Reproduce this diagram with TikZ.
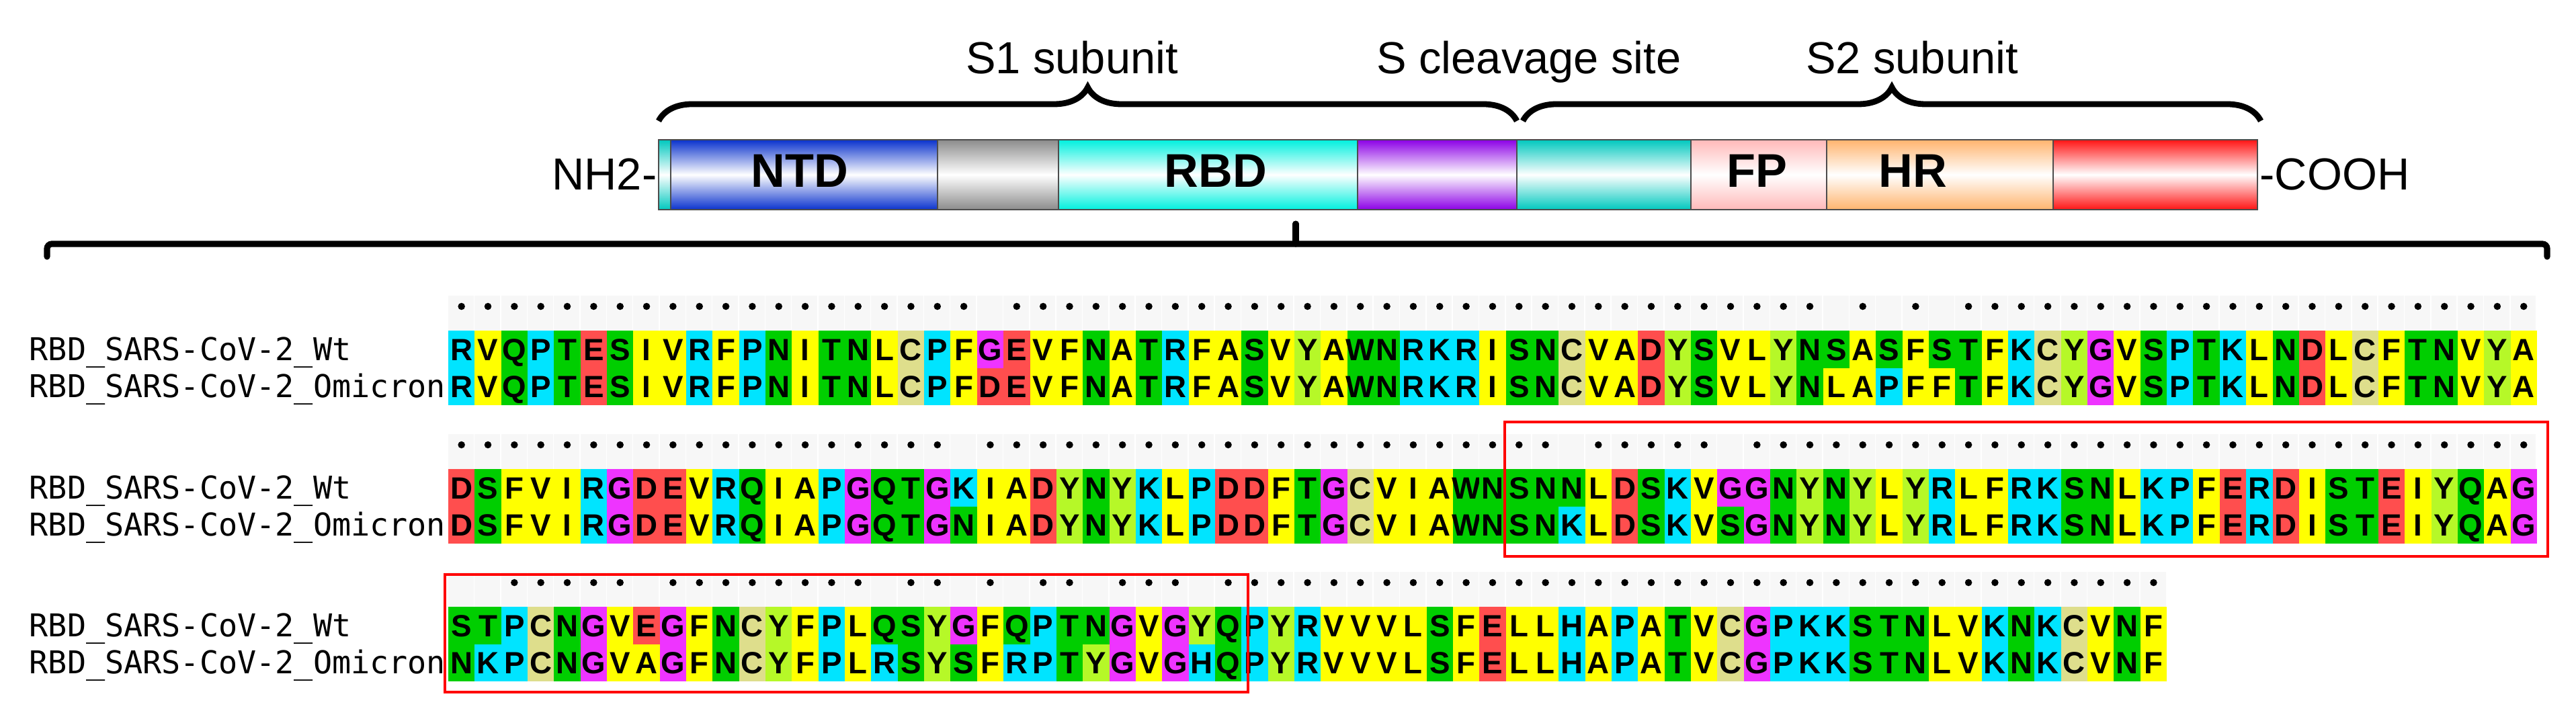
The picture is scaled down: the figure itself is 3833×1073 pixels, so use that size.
\documentclass[tikz,border=0pt]{standalone}
\usepackage{fontspec}
\setmainfont{Liberation Sans}
\newfontfamily\namefont{DejaVu Sans Mono}
\usetikzlibrary{decorations.pathreplacing}

% residue colours
\definecolor{aacyan}{RGB}{0,228,255}
\definecolor{aayellow}{RGB}{255,255,0}
\definecolor{aagreen}{RGB}{0,206,0}
\definecolor{aared}{RGB}{255,78,78}
\definecolor{aamagenta}{RGB}{238,52,255}
\definecolor{aakhaki}{RGB}{222,222,140}
\definecolor{aalime}{RGB}{182,248,40}
\colorlet{aaR}{aacyan}\colorlet{aaK}{aacyan}\colorlet{aaH}{aacyan}\colorlet{aaP}{aacyan}
\colorlet{aaV}{aayellow}\colorlet{aaI}{aayellow}\colorlet{aaL}{aayellow}
\colorlet{aaF}{aayellow}\colorlet{aaA}{aayellow}\colorlet{aaM}{aayellow}
\colorlet{aaQ}{aagreen}\colorlet{aaT}{aagreen}\colorlet{aaS}{aagreen}
\colorlet{aaN}{aagreen}\colorlet{aaW}{aagreen}
\colorlet{aaD}{aared}\colorlet{aaE}{aared}
\colorlet{aaG}{aamagenta}
\colorlet{aaC}{aakhaki}
\colorlet{aaY}{aalime}

% domain colours
\definecolor{dteal}{RGB}{0,200,190}
\definecolor{dblue}{RGB}{10,50,205}
\definecolor{dgray}{RGB}{140,140,140}
\definecolor{drbd}{RGB}{0,240,222}
\definecolor{dpurple}{RGB}{140,0,230}
\definecolor{dfp}{RGB}{255,185,185}
\definecolor{dhr}{RGB}{255,180,110}
\definecolor{dred}{RGB}{255,20,20}

\tikzset{
  reslabel/.style = {anchor=base, inner sep=0pt, font=\bfseries\fontsize{13pt}{13pt}\selectfont},
  seqname/.style = {anchor=base west, inner sep=0pt, font=\namefont\fontsize{13.3pt}{14pt}\selectfont},
  toplabel/.style = {anchor=base, inner sep=0pt, font=\fontsize{19pt}{20pt}\selectfont},
  domlabel/.style = {anchor=base, inner sep=0pt, font=\bfseries\fontsize{20pt}{20pt}\selectfont},
  subbrace/.style = {decorate, decoration={brace, amplitude=0.5cm}, line width=2.5pt},
  bracket/.style = {line width=2.6pt, rounded corners=2pt, line cap=round},
  hilite/.style = {draw=red, line width=1.3pt},
}

\newcount\colno
\def\colw{39.34}
\def\rowtop{0}
\def\rowid{a}

% one column: wt residue, omicron residue
\newcommand\seqcell[2]{%
  \global\advance\colno by 1
  \pgfmathsetmacro\cxl{667+(\the\colno-1)*\colw}
  \pgfmathsetmacro\cxm{\cxl+\colw/2}
  \fill[gray!6] (\cxl,\rowtop-52) rectangle ++(\colw-1.5,52);
  \fill[aa#1] (\cxl,\rowtop) rectangle ++(\colw+0.3,55.8);
  \fill[aa#2] (\cxl,\rowtop+55.5) rectangle ++(\colw+0.3,55.5);
  \node[reslabel] (\rowid w\the\colno) at (\cxm,\rowtop+44) {#1};
  \node[reslabel] (\rowid o\the\colno) at (\cxm,\rowtop+99.5) {#2};
  \ifx#1#2\fill (\cxm,\rowtop-36) circle[radius=1.5pt];\fi
}
\def\seqpair#1#2\relax#3#4\relax{%
  \seqcell{#1}{#3}%
  \ifx\relax#2\relax\else\seqpair#2\relax#4\relax\fi}
\newcommand\seqrow[4]{% id, top, wt, omicron
  \def\rowid{#1}\def\rowtop{#2}\global\colno=0
  \node[seqname] (#1wt) at (43,#2+44) {RBD\_SARS-CoV-2\_Wt};
  \node[seqname] (#1om) at (43,#2+99.5) {RBD\_SARS-CoV-2\_Omicron};
  \seqpair#3\relax#4\relax}

\begin{document}
\begin{tikzpicture}[x=0.01cm, y=-0.01cm]
	\useasboundingbox (0,0) rectangle (3833,1073);

	%subunit labels and braces
	\node[toplabel] (s1) at (1595,110) {S1 subunit};
	\node[toplabel] (cleave) at (2275,110) {S cleavage site};
	\node[toplabel] (s2) at (2845,110) {S2 subunit};
	\draw[subbrace] (980,180) -- (2257,180);
	\draw[subbrace] (2266,180) -- (3364,180);

	%domain bar
	\foreach \xa/\xb/\col in {980/998/dteal, 998/1395/dblue, 1395/1575/dgray,
		1575/2020/drbd, 2020/2257/dpurple, 2257/2516/dteal, 2516/2718/dfp,
		2718/3055/dhr, 3055/3359/dred}
		\shadedraw[top color=\col, bottom color=\col, middle color=white,
			draw=black!70, line width=0.6pt] (\xa,208) rectangle (\xb,312);
	\node[domlabel] (ntd) at (1190,278) {NTD};
	\node[domlabel] (rbd) at (1809,278) {RBD};
	\node[domlabel] (fp) at (2614,278) {FP};
	\node[domlabel] (hr) at (2846,278) {HR};
	\node[toplabel, anchor=base east] (nterm) at (978,282) {NH2-};
	\node[toplabel, anchor=base west] (cterm) at (3362,282) {-COOH};

	%RBD bracket
	\draw[bracket] (70,382) |- (3790,363) -- (3790,382);
	\draw[bracket] (1928,363) -- (1928,333);

	%alignment
	\seqrow{a}{492}{RVQPTESIVRFPNITNLCPFGEVFNATRFASVYAWNRKRISNCVADYSVLYNSASFSTFKCYGVSPTKLNDLCFTNVYA}
		{RVQPTESIVRFPNITNLCPFDEVFNATRFASVYAWNRKRISNCVADYSVLYNLAPFFTFKCYGVSPTKLNDLCFTNVYA}
	\seqrow{b}{698}{DSFVIRGDEVRQIAPGQTGKIADYNYKLPDDFTGCVIAWNSNNLDSKVGGNYNYLYRLFRKSNLKPFERDISTEIYQAG}
		{DSFVIRGDEVRQIAPGQTGNIADYNYKLPDDFTGCVIAWNSNKLDSKVSGNYNYLYRLFRKSNLKPFERDISTEIYQAG}
	\seqrow{c}{903}{STPCNGVEGFNCYFPLQSYGFQPTNGVGYQPYRVVVLSFELLHAPATVCGPKKSTNLVKNKCVNF}
		{NKPCNGVAGFNCYFPLRSYSFRPTYGVGHQPYRVVVLSFELLHAPATVCGPKKSTNLVKNKCVNF}

	%mutated regions
	\draw[hilite] (2239,628) rectangle (3791,828);
	\draw[hilite] (662,855) rectangle (1857,1030);
\end{tikzpicture}
\end{document}
